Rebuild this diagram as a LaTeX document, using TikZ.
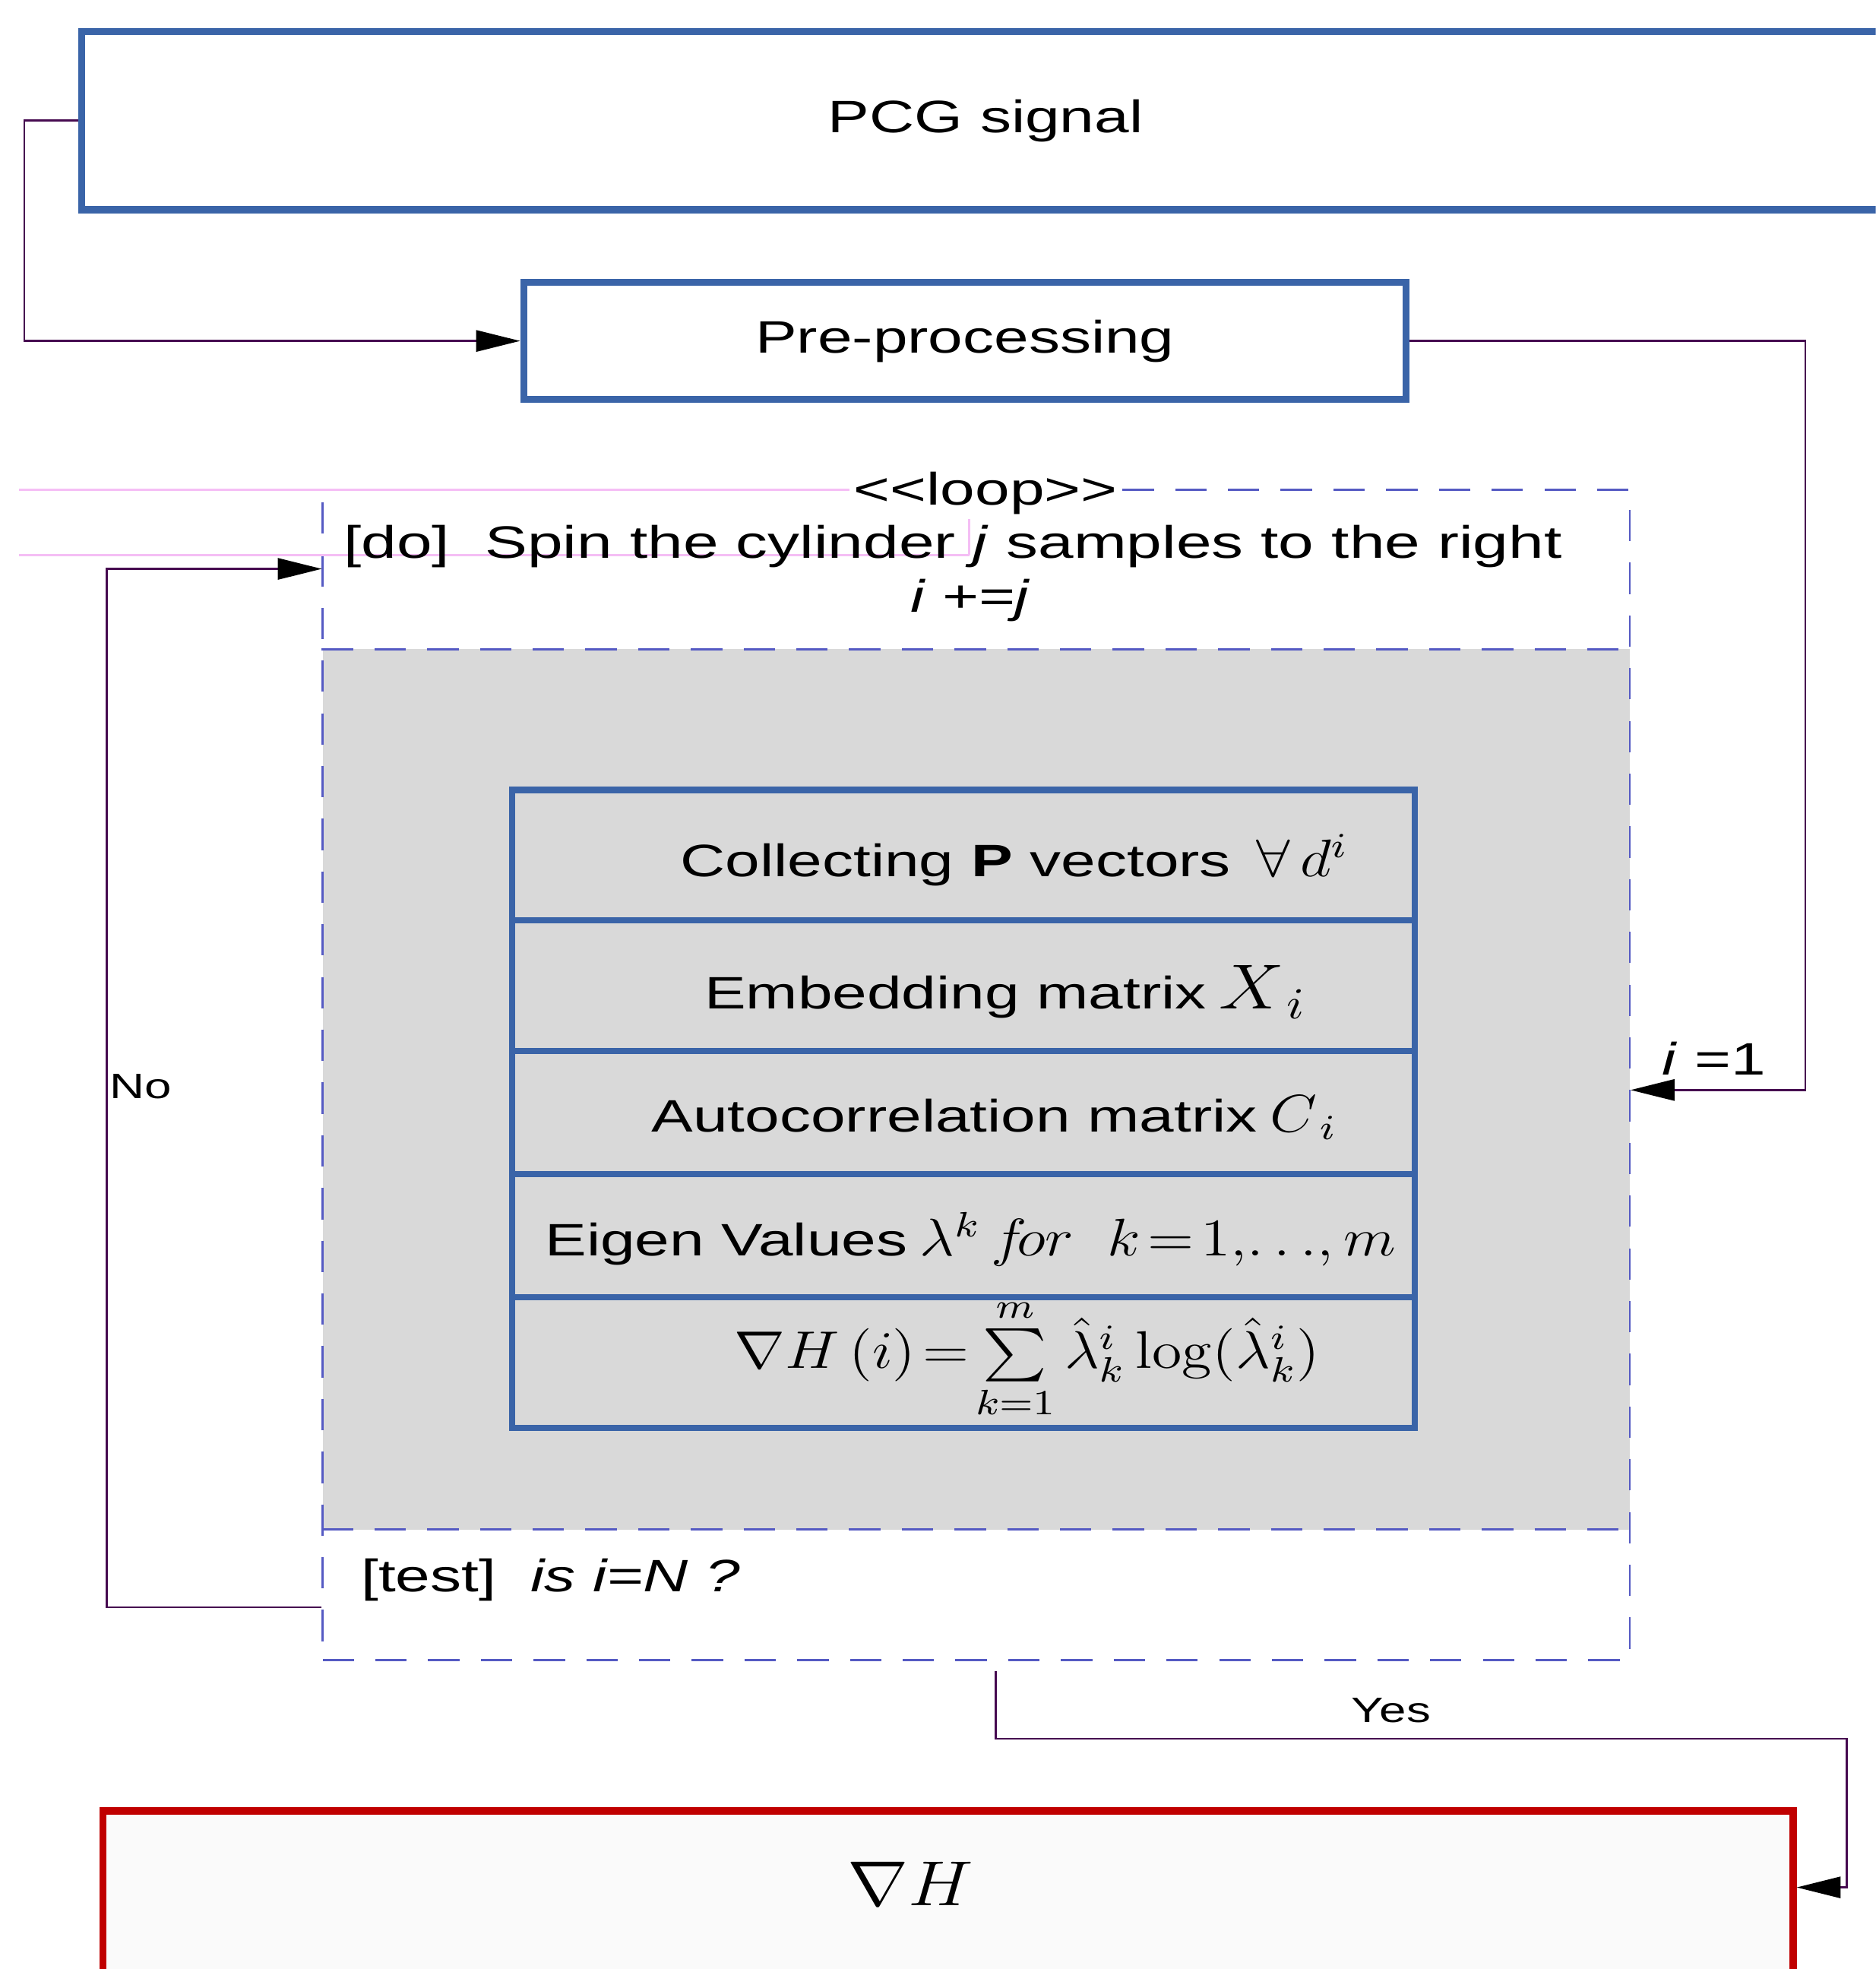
\documentclass[tikz,border=0pt]{standalone}
\usepackage{amsmath}
\usepackage{amssymb}
\usepackage{graphicx}
\usepackage[no-math]{fontspec}
\setmainfont{Liberation Sans}
\usepackage{tikz}
\usetikzlibrary{arrows.meta,positioning,calc}

\definecolor{boxblue}{RGB}{58,100,168}
\definecolor{boxred}{RGB}{192,0,0}
\definecolor{loopgray}{RGB}{217,217,217}
\definecolor{framepurple}{RGB}{85,90,195}
\definecolor{linepurple}{RGB}{70,10,80}
\definecolor{ghostpink}{RGB}{245,190,245}

\newcommand{\stretchtxt}[1]{\scalebox{1.37}[1]{#1}}
\newcommand{\stretchmath}[1]{\scalebox{1.15}[1]{#1}}

\begin{document}
\begin{tikzpicture}[x=0.1mm,y=-0.1mm,
  every node/.style={font=\fontsize{10.3}{12}\selectfont,inner sep=0pt},
  blk/.style={draw=boxblue,line width=0.55mm,fill=white},
  endblk/.style={draw=boxred,line width=0.6mm,fill=white!98!black},
  tabbox/.style={draw=boxblue,line width=0.5mm},
  tabline/.style={draw=boxblue,line width=0.5mm},
  frame/.style={draw=framepurple,line width=0.15mm,dash pattern=on 2.5mm off 1.7mm},
  conn/.style={draw=linepurple,line width=0.15mm,-{Triangle[length=3.5mm,width=1.7mm,black]}},
  ghost/.style={draw=ghostpink,line width=0.15mm},
  small/.style={font=\fontsize{8}{10}\selectfont}]

\path[use as bounding box] (0,0) rectangle (1494,1568);
\clip (0,0) rectangle (1494,1568);

% Input and pre-processing
\node[blk,minimum width=144mm,minimum height=14.2mm] (pcg) at (785,96) {\stretchtxt{PCG signal}};
\node[blk,minimum width=70.3mm,minimum height=9.3mm] (pre) at (768.5,271.5) {\stretchtxt{Pre-processing}};

% Loop frame
\fill[loopgray] (257,517) rectangle (1298,1218);
\node[frame,minimum width=104.1mm,minimum height=93.2mm] (loop) at (777.5,856) {};
\draw[frame] (loop.west |- 0,517) -- (loop.east |- 0,517);
\draw[frame] (loop.west |- 0,1218) -- (loop.east |- 0,1218);

% Stray guide lines
\draw[white,line width=0.4mm] (258,390) -- (680,390);
\draw[ghost] (15,390) -- (680,390);
\draw[ghost] (15,442) -- (772,442);
\draw[ghost] (772,390) -- (772,442);

\node[fill=white,inner sep=1pt] (looptag) at (785,393) {\stretchtxt{<{}<loop>{}>}};
\node[anchor=west] (dotxt) at (273,435) {\scalebox{1.4}[1]{[do]\ \ Spin the cylinder \textit{j} samples to the right}};
\node (inc) at (773,478) {\stretchtxt{\textit{i +=j}}};
\node[anchor=west] (testtxt) at (287,1258) {\stretchtxt{[test]\ \ \textit{is i=N ?}}};

% Steps inside the loop
\node[tabbox,minimum width=71.9mm,minimum height=50.8mm] (tbl) at (767.5,883) {};
\foreach \y in {733,837,935,1033}
  \draw[tabline] (tbl.west |- 0,\y) -- (tbl.east |- 0,\y);

\node (row1) at (808,685) {\stretchtxt{Collecting \textbf{P} vectors}\ \ \stretchmath{\large$\forall\, d^{i}$}};
\node (row2) at (801,790) {\stretchtxt{Embedding matrix}\ \stretchmath{\Large$X_{\,i}$}};
\node (row3) at (792,890) {\stretchtxt{Autocorrelation matrix}\ \stretchmath{\large$C_{\,i}$}};
\node (row4) at (773,987) {\stretchtxt{Eigen Values}\ \stretchmath{\large$\lambda^{k}\,f\!or\ \ k\!=\!1,\!\ldots\!,m$}};
\node (row5) at (818,1082) {\stretchmath{\large$\nabla H\,(i)\!=\!\sum\limits_{k=1}^{m}\hat{\lambda}_{k}^{i}\log(\hat{\lambda}_{k}^{i})$}};

% Result
\node[endblk,minimum width=134.6mm,minimum height=17.8mm] (grad) at (755,1531) {};
\node (gradtxt) at (725,1500) {\stretchmath{\fontsize{14}{17}\selectfont$\nabla H$}};

% Connectors
\draw[conn] (pcg.west) -- ++(-43,0) |- (pre.west);
\draw[conn] (pre.east) -- (1438,271.5) |- (loop.east |- 0,868);
\node (ione) at (1365,843) {\stretchtxt{\textit{i} =1}};

\draw[conn] (loop.west |- 0,1280) -- (85,1280) |- (loop.west |- 0,453);
\node[small] (no) at (112,865) {\stretchtxt{No}};

\draw[conn] ($(loop.south)+(15.5,8)$) -- ++(0,54) -| (1471,1503) -- (grad.east |- 0,1503);
\node[small] (yes) at (1108,1362) {\stretchtxt{Yes}};

\end{tikzpicture}
\end{document}
